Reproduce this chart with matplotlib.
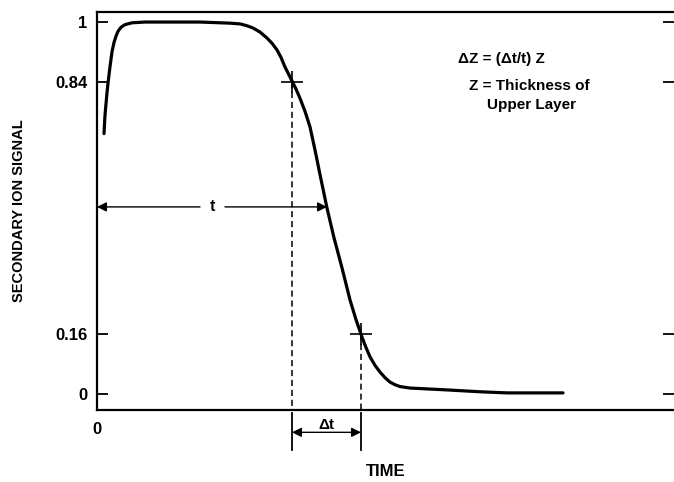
import matplotlib
matplotlib.use("Agg")
import matplotlib.pyplot as plt

plt.rcParams['font.family'] = ['Liberation Sans', 'DejaVu Sans']
plt.rcParams['font.weight'] = 'bold'

# Depth-profile curve (time in arbitrary units, signal normalised)
time = [0.7, 0.8, 0.9, 1.0, 1.1, 1.3, 1.5, 1.7, 1.9, 2.1, 2.4, 2.8, 3.5, 4.8,
        10.3, 13.3, 14.3, 15.0, 15.6, 16.3, 17.0, 17.5, 18.0, 18.4, 18.8,
        19.2, 19.6, 19.9, 20.3, 20.8, 21.3, 21.8, 22.3, 23.0, 23.7, 24.5,
        25.3, 25.9, 26.5, 26.9, 27.3, 27.8, 28.3, 28.8, 29.3, 29.8, 30.3,
        31.3, 35.0, 38.3, 41.0, 46.6]
signal = [0.70, 0.75, 0.78, 0.81, 0.836, 0.88, 0.92, 0.945, 0.962, 0.975,
          0.986, 0.993, 0.998, 1.0, 1.0, 0.997, 0.995, 0.99, 0.984, 0.973,
          0.957, 0.943, 0.925, 0.905, 0.879, 0.858, 0.836, 0.82, 0.795,
          0.76, 0.718, 0.656, 0.59, 0.50, 0.42, 0.339, 0.253, 0.20, 0.153,
          0.125, 0.10, 0.077, 0.059, 0.044, 0.032, 0.025, 0.02, 0.016,
          0.011, 0.006, 0.003, 0.003]

y_ticks = [0, 0.16, 0.84, 1]
y_tick_labels = ['0', '0.16', '0.84', '1']
t84 = 19.5   # time at 0.84 signal
t16 = 26.4   # time at 0.16 signal
t50 = 23.0   # time at 0.5 signal (t)

fig = plt.figure(figsize=(6.74, 4.82), dpi=100)
ax = fig.add_axes([97/674, 72/482, 1 - 97/674, 398/482])
ax.set_xlim(0, 57.7)
ax.set_ylim(-0.043, 1.027)

ax.plot(time, signal, color='black', lw=2.3, solid_capstyle='round',
        solid_joinstyle='round')

# markers and dashed lines
for tt, yy in [(t84, 0.84), (t16, 0.16)]:
    ax.plot([tt], [yy], marker='+', ms=16, mew=1.2, color='black')
    ax.plot([tt, tt], [yy, -0.043], ls=(0, (4, 2.5)), lw=1.1, color='black')
    ax.plot([tt, tt], [-0.051, -0.15], lw=1.3, color='black', clip_on=False)

# t arrow
ax.annotate('', xy=(0, 0.503), xytext=(10.3, 0.503),
            arrowprops=dict(arrowstyle='-|>', lw=1.0, color='black',
                            mutation_scale=14, shrinkA=0, shrinkB=0))
ax.annotate('', xy=(t50, 0.503), xytext=(12.8, 0.503),
            arrowprops=dict(arrowstyle='-|>', lw=1.0, color='black',
                            mutation_scale=14, shrinkA=0, shrinkB=0))
ax.text(11.5, 0.503, 't', ha='center', va='center', fontsize=11.5, fontweight='bold')

# delta t arrow
ax.annotate('', xy=(t84, -0.103), xytext=(t16, -0.103),
            arrowprops=dict(arrowstyle='<|-|>', lw=1.0, color='black',
                            mutation_scale=14, shrinkA=0, shrinkB=0),
            annotation_clip=False)
ax.text((t84 + t16) / 2, -0.083, 'Δt', ha='center', va='center',
        fontsize=11, fontweight='bold', clip_on=False)

# annotations
ax.text(36.1, 0.90, 'ΔZ = (Δt/t) Z', fontsize=11, fontweight='bold',
        ha='left', va='center')
ax.text(37.2, 0.828, 'Z = Thickness of', fontsize=11, fontweight='bold',
        ha='left', va='center')
ax.text(39.0, 0.777, 'Upper Layer', fontsize=11, fontweight='bold',
        ha='left', va='center')

# axes styling
ax.set_yticks(y_ticks)
ax.set_yticklabels(y_tick_labels, fontsize=12, fontweight='bold')
ax.tick_params(axis='y', direction='in', length=8, width=1.3, pad=7,
               right=True, left=True)
ax.set_xticks([0])
ax.set_xticklabels(['0'], fontsize=12, fontweight='bold')
ax.tick_params(axis='x', length=0, pad=9)
for s in ['left', 'bottom', 'top']:
    ax.spines[s].set_linewidth(1.6)
ax.spines['right'].set_visible(False)

ax.set_ylabel('SECONDARY ION SIGNAL', fontsize=10.5, fontweight='bold')
ax.yaxis.set_label_coords(-(97 - 26) / 577, 0.5)
ax.set_xlabel('TIME', fontsize=12, fontweight='bold')
ax.xaxis.set_label_coords(0.5, -(464 - 410) / 398)

fig.savefig('out.png', dpi=100)
